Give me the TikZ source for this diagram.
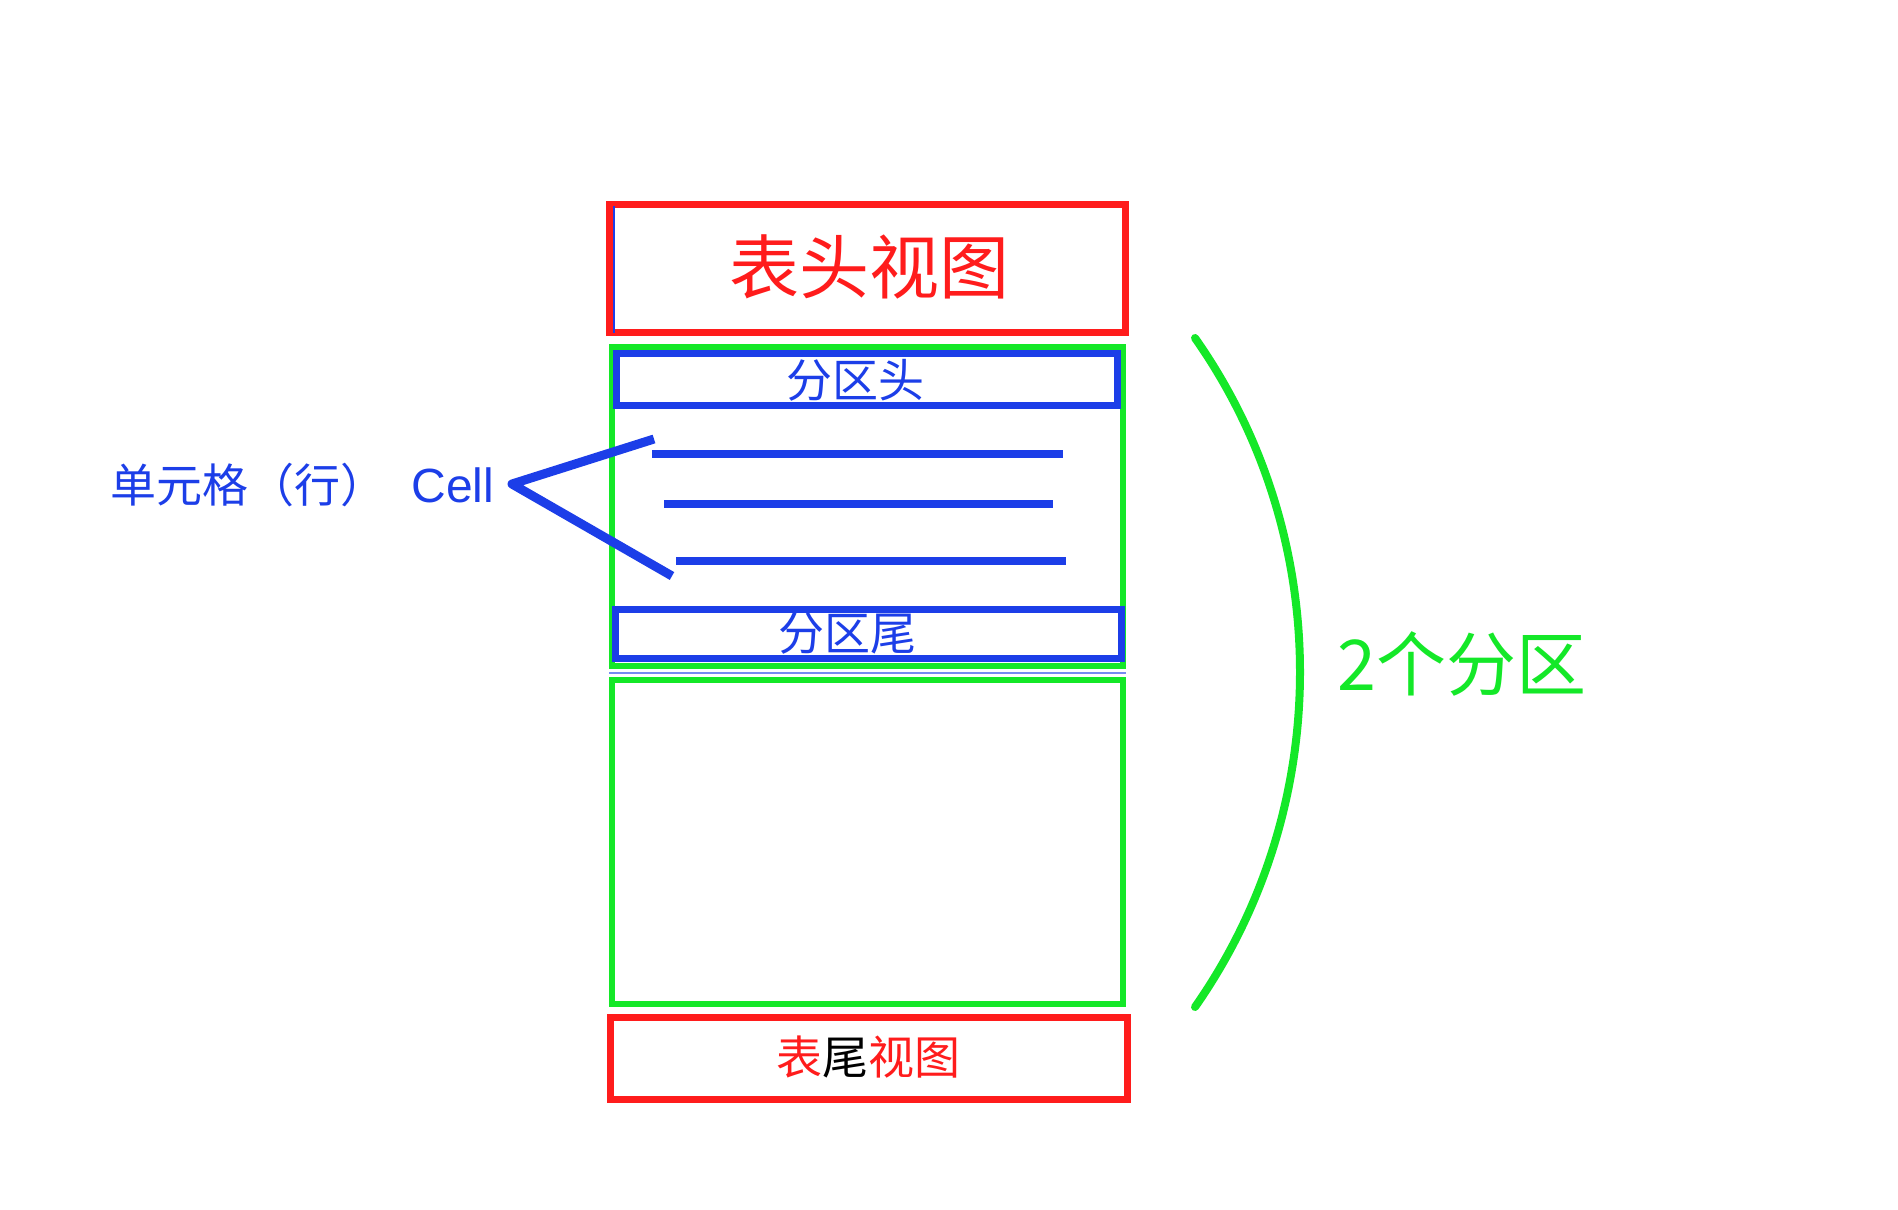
\documentclass[tikz,border=0pt]{standalone}
\usepackage{fontspec}
\setmainfont{Noto Sans CJK SC}
\newfontfamily\latinfont{Liberation Sans}
\definecolor{myred}{RGB}{255,28,28}
\definecolor{mygreen}{RGB}{20,232,40}
\definecolor{myblue}{RGB}{28,62,232}
\tikzset{
  box/.style={draw, inner sep=0pt, fill=none},
  redbox/.style={box, draw=myred, line width=7pt},
  greenbox/.style={box, draw=mygreen, line width=6pt},
  bluebox/.style={box, draw=myblue, line width=7pt},
  rowline/.style={draw=myblue, line width=8pt},
  lbl/.style={inner sep=0pt, anchor=center},
}
\begin{document}
\begin{tikzpicture}[x=1pt,y=-1pt]
\useasboundingbox (0,0) rectangle (1898,1210);
\begin{scope}[shift={(-5,-3)}]
% table header
\node[redbox, minimum width=516pt, minimum height=128pt] (hdr) at (872.5,271.5) {};
\node[lbl, text=myred, font=\fontsize{70}{70}\selectfont] (hdrt) at (874,270) {表头视图};
\coordinate (bl1) at (619,209);
\coordinate (bl2) at (619,336);
\draw[myblue, line width=2pt] (bl1) -- (bl2);
% section 1
\node[greenbox, minimum width=511pt, minimum height=319pt] (sec1) at (872.5,509.5) {};
\node[bluebox, minimum width=501pt, minimum height=52pt] (shdr) at (872,382.5) {};
\node[lbl, text=myblue, font=\fontsize{46}{46}\selectfont] (shdrt) at (860,383) {分区头};
\node[bluebox, minimum width=506pt, minimum height=49pt] (sftr) at (873.5,637) {};
\node[lbl, text=myblue, font=\fontsize{46}{46}\selectfont] (sftrt) at (852,636) {分区尾};
% rows
\coordinate (r1a) at (657,457); \coordinate (r1b) at (1068,457);
\coordinate (r2a) at (669,507); \coordinate (r2b) at (1058,507);
\coordinate (r3a) at (681,564); \coordinate (r3b) at (1071,564);
\draw[rowline] (r1a) -- (r1b);
\draw[rowline] (r2a) -- (r2b);
\draw[rowline] (r3a) -- (r3b);
% separator
\coordinate (sp1) at (614,676); \coordinate (sp2) at (1131,676);
\draw[myblue!60, line width=1.5pt] (sp1) -- (sp2);
% section 2
\node[greenbox, minimum width=511pt, minimum height=324pt] (sec2) at (872.5,845) {};
% table footer
\node[redbox, minimum width=517pt, minimum height=82pt] (ftr) at (874,1061.5) {};
\node[lbl, text=myred, font=\fontsize{46}{46}\selectfont] (ftrt) at (873,1060) {表{\color{black}尾}视图};
% cell label and V
\node[inner sep=0pt, anchor=west, text=myblue, font=\fontsize{46}{46}\selectfont] (cell) at (115,488) {单元格（行）\hspace{0.55em}{\latinfont\fontsize{48}{48}\selectfont Cell}};
\coordinate (va) at (659,442);
\coordinate (vb) at (517,487);
\coordinate (vc) at (677,579);
\draw[myblue, line width=9pt, line join=round] (va) -- (vb) -- (vc);
% brace arc
\coordinate (aa) at (1200,341);
\coordinate (ab) at (1200,1010);
\draw[mygreen, line width=8pt, line cap=round] (aa) .. controls (1340,540) and (1340,810) .. (ab);
\node[inner sep=0pt, anchor=west, text=mygreen, font=\fontsize{70}{70}\selectfont] (two) at (1342,667) {2个分区};
\end{scope}
\end{tikzpicture}
\end{document}
